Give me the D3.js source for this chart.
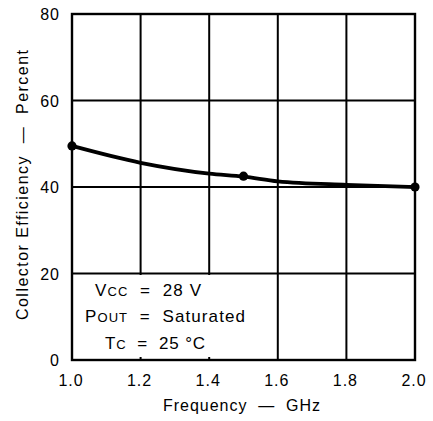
<!DOCTYPE html>
<html>
<head>
<meta charset="utf-8">
<script src="https://cdn.jsdelivr.net/npm/d3@7"></script>
<style>
  body { margin: 0; background: #fff; }
  text { font-family: "Liberation Sans", Arial, sans-serif; fill: #000; }
</style>
</head>
<body>
<script>
var w = 433;
var h = 421;

var margin = { top: 14, right: 18, bottom: 61, left: 72 };
var width = w - margin.left - margin.right;
var height = h - margin.top - margin.bottom;

// curve
var freq = [1.0, 1.2, 1.4, 1.5, 1.6, 1.8, 2.0];
var eff = [49.5, 45.6, 43.1, 42.4, 41.3, 40.5, 40.0];
// measured points (dots)
var ptFreq = [1.0, 1.5, 2.0];
var ptEff = [49.5, 42.5, 40.0];

var xTicks = [1.0, 1.2, 1.4, 1.6, 1.8, 2.0];
var yTicks = [0, 20, 40, 60, 80];

var x = d3.scaleLinear().domain([1.0, 2.0]).range([0, width]);
var y = d3.scaleLinear().domain([0, 80]).range([height, 0]);

var svg = d3.select("body").append("svg")
  .attr("width", w)
  .attr("height", h);

var chart = svg.append("g")
  .attr("transform", "translate(" + margin.left + "," + margin.top + ")");

// grid
chart.selectAll(".vgrid")
  .data(xTicks)
  .enter()
  .append("line")
  .attr("x1", function (d) { return x(d); })
  .attr("x2", function (d) { return x(d); })
  .attr("y1", 0)
  .attr("y2", height)
  .attr("stroke", "#000")
  .attr("stroke-width", 2);

chart.selectAll(".hgrid")
  .data(yTicks)
  .enter()
  .append("line")
  .attr("x1", 0)
  .attr("x2", width)
  .attr("y1", function (d) { return y(d); })
  .attr("y2", function (d) { return y(d); })
  .attr("stroke", "#000")
  .attr("stroke-width", 2);

// legend box masks the grid
var boxW = x(1.52) - x(1.0);
chart.append("rect")
  .attr("x", 1)
  .attr("y", y(20) + 1.5)
  .attr("width", boxW)
  .attr("height", height - y(20) - 2.5)
  .attr("fill", "#fff");

// frame
chart.append("rect")
  .attr("x", 0)
  .attr("y", 0)
  .attr("width", width)
  .attr("height", height)
  .attr("fill", "none")
  .attr("stroke", "#000")
  .attr("stroke-width", 2.4);

// little ticks of 1.2, 1.4 left under the box
chart.selectAll(".btick")
  .data([1.2, 1.4])
  .enter()
  .append("line")
  .attr("x1", function (d) { return x(d); })
  .attr("x2", function (d) { return x(d); })
  .attr("y1", height - 3)
  .attr("y2", height)
  .attr("stroke", "#000")
  .attr("stroke-width", 2);

// curve
var line = d3.line()
  .x(function (d, i) { return x(freq[i]); })
  .y(function (d) { return y(d); })
  .curve(d3.curveMonotoneX);

chart.append("path")
  .datum(eff)
  .attr("d", line)
  .attr("fill", "none")
  .attr("stroke", "#000")
  .attr("stroke-width", 3.8);

chart.selectAll(".dot")
  .data(ptEff)
  .enter()
  .append("circle")
  .attr("cx", function (d, i) { return x(ptFreq[i]); })
  .attr("cy", function (d) { return y(d); })
  .attr("r", 4.6)
  .attr("fill", "#000");

// tick labels
chart.selectAll(".xlab")
  .data(xTicks)
  .enter()
  .append("text")
  .attr("x", function (d) { return x(d) - 1; })
  .attr("y", height + 26)
  .attr("text-anchor", "middle")
  .attr("letter-spacing", 1)
  .style("font-size", "16px")
  .text(function (d) { return d.toFixed(1); });

chart.selectAll(".ylab")
  .data(yTicks)
  .enter()
  .append("text")
  .attr("x", -12)
  .attr("y", function (d) { return y(d) + 6; })
  .attr("text-anchor", "end")
  .attr("letter-spacing", 1)
  .style("font-size", "16px")
  .text(function (d) { return d; });

// axis titles
var nb = "\u00a0";
chart.append("text")
  .attr("x", 91)
  .attr("y", height + 51)
  .attr("textLength", 157)
  .attr("lengthAdjust", "spacing")
  .style("font-size", "16px")
  .text("Frequency" + nb + nb + "—" + nb + nb + "GHz");

chart.append("text")
  .attr("transform", "translate(-44,306) rotate(-90)")
  .attr("textLength", 270)
  .attr("lengthAdjust", "spacing")
  .style("font-size", "16px")
  .text("Collector Efficiency" + nb + nb + "—" + nb + nb + "Percent");

// legend
var legMain = ["V", "P", "T"];
var legSub = ["CC", "OUT", "C"];
var legRest = [nb + nb + "=" + nb + nb + "28 V", nb + nb + "=" + nb + nb + "Saturated", nb + nb + "=" + nb + nb + "25 °C"];
var legX = [23, 13, 33];
var legLen = [106, 160, 100];
var legBase = [296, 322, 349];

var leg = chart.selectAll(".leg")
  .data(legMain)
  .enter()
  .append("text")
  .attr("x", function (d, i) { return legX[i]; })
  .attr("y", function (d, i) { return legBase[i] - margin.top; })
  .attr("textLength", function (d, i) { return legLen[i]; })
  .attr("lengthAdjust", "spacing")
  .style("font-size", "17px");

leg.append("tspan").text(function (d) { return d; });
leg.append("tspan").style("font-size", "13px").text(function (d, i) { return legSub[i]; });
leg.append("tspan").text(function (d, i) { return legRest[i]; });
</script>
</body>
</html>
